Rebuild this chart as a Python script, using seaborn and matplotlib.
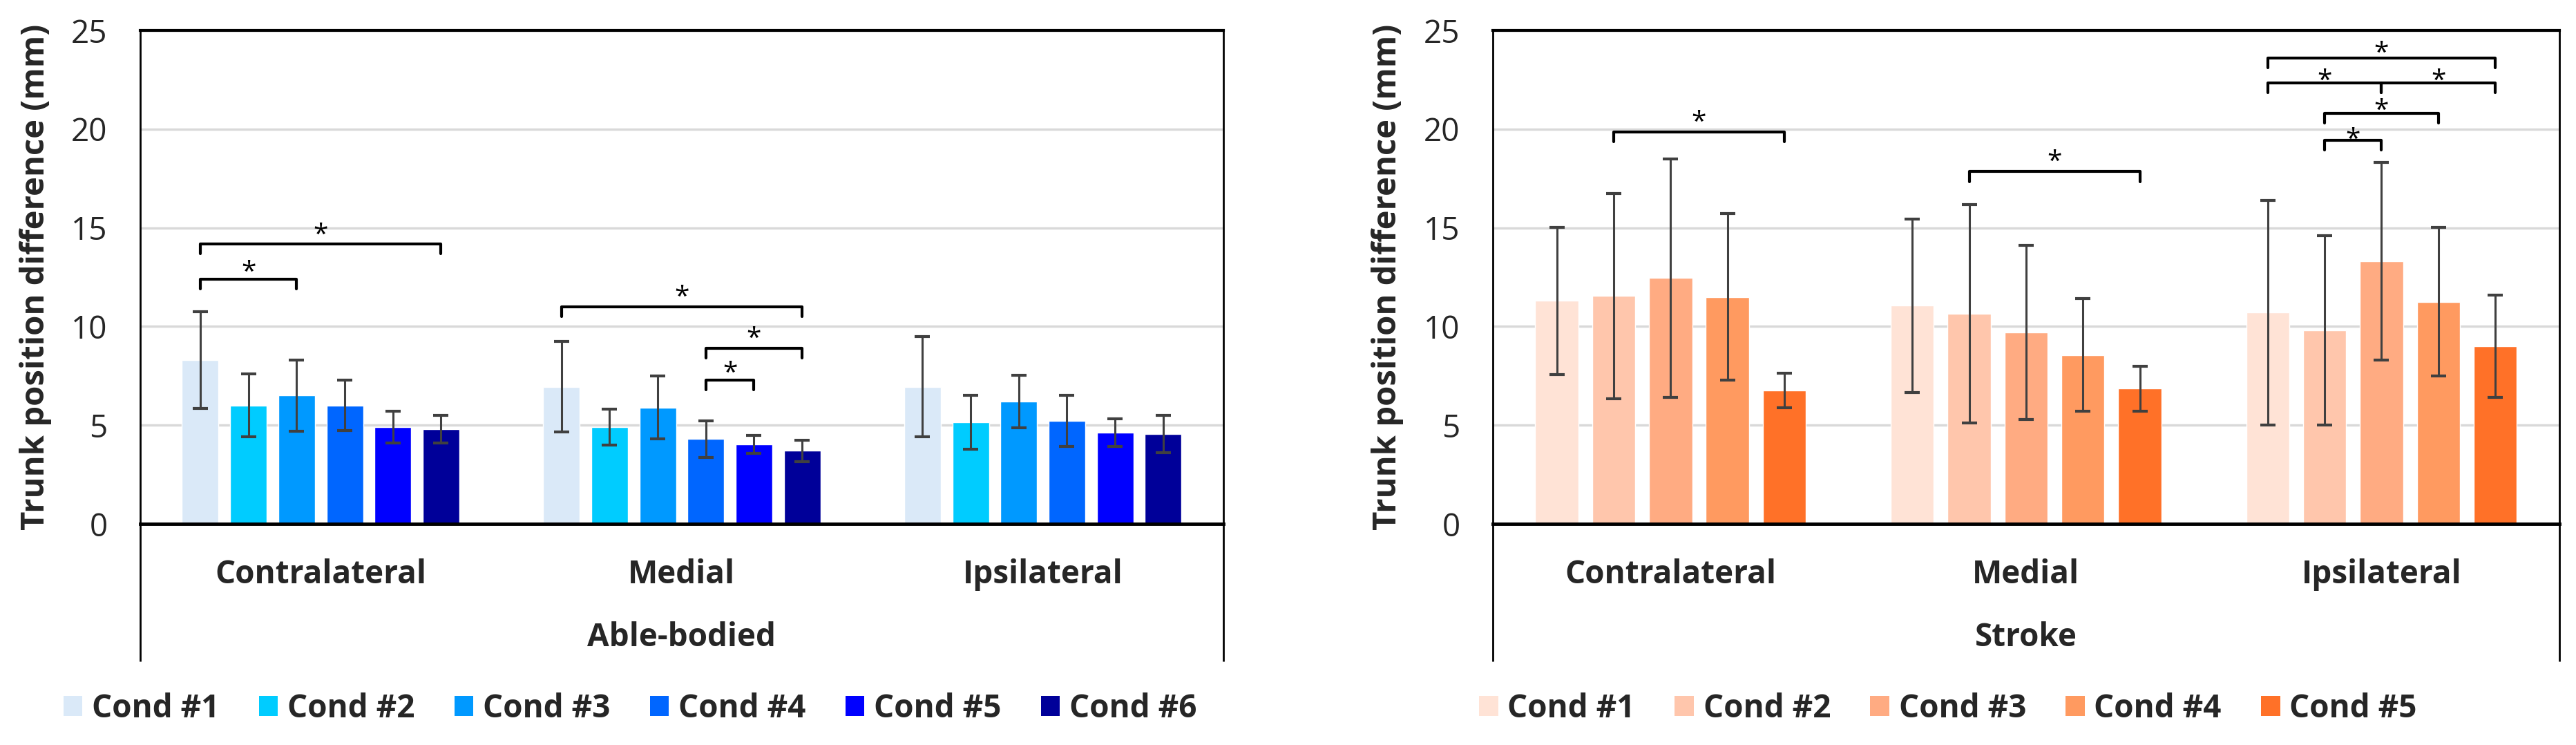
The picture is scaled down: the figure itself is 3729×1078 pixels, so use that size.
import numpy as np
import pandas as pd
import matplotlib
matplotlib.use('Agg')
import matplotlib.pyplot as plt
import seaborn as sns
from matplotlib.patches import Patch
from matplotlib.transforms import offset_copy

# --- Data ---
directions = ['Contralateral', 'Medial', 'Ipsilateral']

able_conditions = ['Cond #1', 'Cond #2', 'Cond #3', 'Cond #4', 'Cond #5', 'Cond #6']
able_colors = ['#DAE9F8', '#00CCFF', '#0099FF', '#0066FF', '#0000FF', '#000099']
# rows = directions, columns = conditions
able_mean = [[8.30, 6.00, 6.50, 6.00, 4.90, 4.80],
             [6.95, 4.90, 5.90, 4.30, 4.03, 3.70],
             [6.95, 5.15, 6.20, 5.23, 4.62, 4.55]]
able_sd = [[2.45, 1.60, 1.80, 1.28, 0.80, 0.70],
           [2.30, 0.90, 1.60, 0.92, 0.45, 0.55],
           [2.55, 1.37, 1.32, 1.30, 0.70, 0.95]]

stroke_conditions = ['Cond #1', 'Cond #2', 'Cond #3', 'Cond #4', 'Cond #5']
stroke_colors = ['#FFE3D6', '#FFC6AC', '#FFAB82', '#FF9A60', '#FF7128']
stroke_mean = [[11.30, 11.55, 12.45, 11.50, 6.75],
               [11.05, 10.65, 9.70, 8.55, 6.85],
               [10.70, 9.80, 13.30, 11.25, 9.00]]
stroke_sd = [[3.72, 5.20, 6.05, 4.22, 0.87],
             [4.40, 5.52, 4.40, 2.85, 1.14],
             [5.70, 4.80, 5.00, 3.77, 2.60]]

# significance brackets: (direction, cond a, cond b, bracket height, star height)
able_brackets = [('Contralateral', 0, 2, 12.4, 13.2),
                 ('Contralateral', 0, 5, 14.2, 15.1),
                 ('Medial', 0, 5, 11.0, 11.95),
                 ('Medial', 3, 5, 8.9, 9.85),
                 ('Medial', 3, 4, 7.3, 8.1)]
stroke_brackets = [('Contralateral', 1, 4, 19.85, 20.8),
                   ('Medial', 1, 4, 17.85, 18.8),
                   ('Ipsilateral', 0, 4, 23.6, 24.3),
                   ('Ipsilateral', 0, 2, 22.35, 22.9),
                   ('Ipsilateral', 2, 4, 22.35, 22.9),
                   ('Ipsilateral', 1, 3, 20.8, 21.4),
                   ('Ipsilateral', 1, 2, 19.45, 19.95)]

y_label = 'Trunk position difference (mm)'

# --- Style ---
sns.set_theme(style='white')
plt.rcParams['font.family'] = ['Open Sans', 'DejaVu Sans']

FS = 33

fig = plt.figure(figsize=(37.29, 10.78), dpi=100)
ax_left = fig.add_axes([0.0544, 0.2968, 0.4205, 0.6623])
ax_right = fig.add_axes([0.5795, 0.2968, 0.4140, 0.6623])


def draw_panel(ax, means, sds, conds, colors, group_label, brackets):
    rows = []
    for i, d in enumerate(directions):
        for j, c in enumerate(conds):
            rows.append({'Direction': d, 'Condition': c,
                         'Value': means[i][j], 'SD': sds[i][j]})
    df = pd.DataFrame(rows)

    sns.barplot(data=df, x='Direction', y='Value', hue='Condition',
                order=directions, hue_order=conds, palette=colors,
                errorbar=None, width=0.8, gap=0.24, saturation=1,
                legend=False, ax=ax, zorder=2)

    # bar centres from the drawn bars
    centers = {}
    for j, cont in enumerate(ax.containers):
        for i, p in enumerate(cont.patches):
            centers[(i, j)] = p.get_x() + p.get_width() / 2

    xs = [centers[(i, j)] for i in range(len(directions)) for j in range(len(conds))]
    ys = [means[i][j] for i in range(len(directions)) for j in range(len(conds))]
    es = [sds[i][j] for i in range(len(directions)) for j in range(len(conds))]
    ax.errorbar(xs, ys, yerr=es, fmt='none', ecolor='#404040',
                elinewidth=2.2, capsize=8, capthick=3, zorder=3)

    ax.set_ylim(0, 25)
    ax.set_yticks([0, 5, 10, 15, 20, 25])
    ax.set_xlim(-0.5, 2.5)
    ax.set_xlabel('')
    ax.set_ylabel('')
    ax.tick_params(axis='y', length=0, labelsize=FS, pad=34)
    ax.tick_params(axis='x', length=0, labelsize=FS, pad=36)
    for lab in ax.get_xticklabels():
        lab.set_fontweight('bold')

    ax.set_axisbelow(True)
    ax.yaxis.grid(True, color='#D9D9D9', lw=2.5)
    ax.xaxis.grid(False)
    for side, lw in [('top', 3), ('bottom', 3.5), ('left', 2), ('right', 2)]:
        ax.spines[side].set_visible(True)
        ax.spines[side].set_color('black')
        ax.spines[side].set_linewidth(lw)
        ax.spines[side].set_zorder(5)

    # the category box continues below the value axis
    for xa in (0, 1):
        ax.plot([xa, xa], [0, -0.279], transform=ax.transAxes, color='black',
                lw=2, clip_on=False, solid_capstyle='butt')

    ax.text(0.5, -0.23, group_label, transform=ax.transAxes, ha='center',
            va='center', fontsize=FS, fontweight='bold')

    star_tr = offset_copy(ax.transData, fig=fig, y=-0.62 * 28, units='points')
    for d, a, b, y, sy in brackets:
        di = directions.index(d)
        x1, x2 = centers[(di, a)], centers[(di, b)]
        ax.plot([x1, x1, x2, x2], [y - 0.5, y, y, y - 0.5], color='black',
                lw=3, zorder=4, clip_on=False)
        ax.text((x1 + x2) / 2, sy, '*', transform=star_tr, ha='center',
                va='baseline', fontsize=28, color='black', zorder=4)


draw_panel(ax_left, able_mean, able_sd, able_conditions, able_colors,
           'Able-bodied', able_brackets)
draw_panel(ax_right, stroke_mean, stroke_sd, stroke_conditions, stroke_colors,
           'Stroke', stroke_brackets)

for x in (52 / 3729, 2009 / 3729):
    fig.text(x, 0.628, y_label, rotation=90, ha='center', va='center',
             fontsize=34, fontweight='bold')

for conds, colors, cx in [(able_conditions, able_colors, 912 / 3729),
                          (stroke_conditions, stroke_colors, 2820 / 3729)]:
    handles = [Patch(facecolor=c, edgecolor='none') for c in colors]
    fig.legend(handles, conds, loc='center', bbox_to_anchor=(cx, 0.049),
               ncol=len(conds), frameon=False,
               prop={'size': FS, 'weight': 'bold'},
               handlelength=0.6, handleheight=0.6, handletextpad=0.3,
               columnspacing=1.25)

fig.savefig('out.png', dpi=100)
